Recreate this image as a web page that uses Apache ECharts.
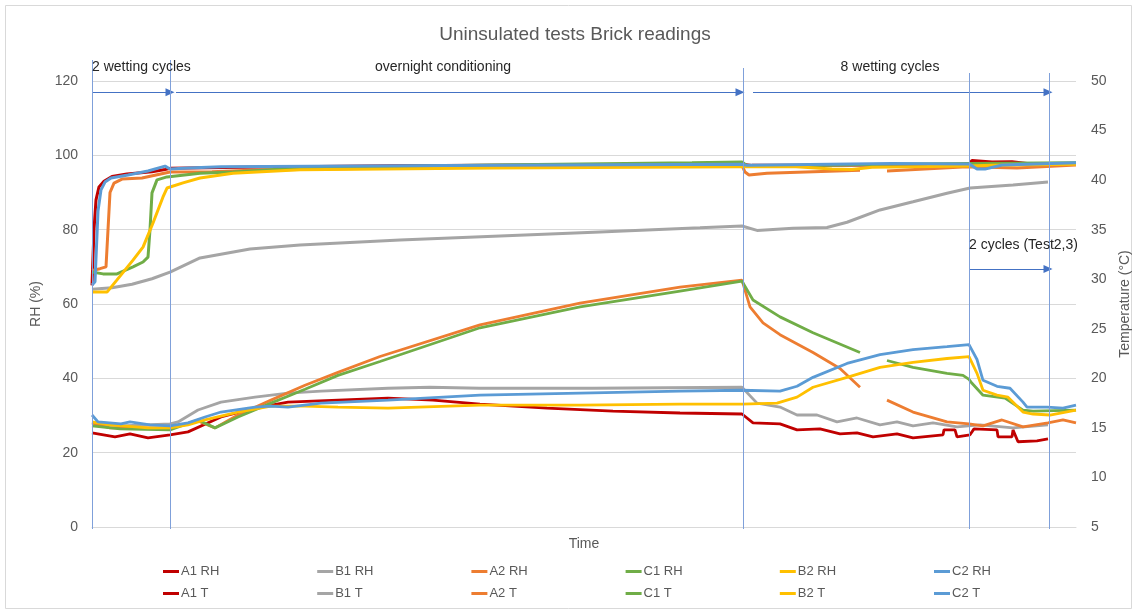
<!DOCTYPE html>
<html><head><meta charset="utf-8">
<script src="https://cdn.jsdelivr.net/npm/echarts@6/dist/echarts.min.js"></script>
<style>html,body{margin:0;padding:0;background:#fff}#c{width:1137px;height:615px}</style>
</head><body><div id="c"></div>
<script>
// ---------------- data ----------------
const TITLE = 'Uninsulated tests Brick readings';
const X_NAME = 'Time';
const RH_NAME = 'RH (%)';
const T_NAME = 'Temperature (\u00B0C)';
const TIME_MAX = 984;            // elapsed time (sample units)
const RH_MIN = 0, RH_MAX = 120, RH_STEP = 20;
const T_MIN = 5, T_MAX = 50, T_STEP = 5;

const SENSORS = ['A1', 'B1', 'A2', 'C1', 'B2', 'C2'];
const COLORS = ['#C00000', '#A5A5A5', '#ED7D31', '#70AD47', '#FFC000', '#5B9BD5'];

// phase boundaries (time)
const PHASES = [0, 78, 651, 877, 957];
const PHASE_LABELS = ['2 wetting cycles', 'overnight conditioning', '8 wetting cycles', '2 cycles (Test2,3)'];

// RH series [time, RH %]
const A1_RH = [[0,65],[2,80],[4,88],[7,91.5],[12,93],[20,94.3],[35,95],[60,95.6],[73,96.2],[78,96.5],[150,96.8],[300,97.2],[500,97.5],[650,97.6],[660,97.3],[800,97.4],[877,97.6],[880,98.6],[900,98.2],[920,98.3],[935,97.8],[984,97.8]];
const B1_RH = [[0,64],[20,64.4],[40,65.3],[60,66.8],[78,68.6],[108,72.4],[158,74.8],[208,75.9],[308,77.2],[408,78.3],[508,79.4],[608,80.5],[650,81],[665,79.8],[701,80.4],[735,80.6],[755,82],[788,85.3],[821,87.5],[855,89.8],[878,91.2],[921,92],[956,92.8]];
const A2_RH = [[0,69],[8,69.5],[14,70],[18,90],[22,92.5],[30,93.6],[50,93.9],[78,95.5],[120,95.6],[158,96],[300,96.6],[500,97],[650,97.3],[653,95.5],[657,94.7],[675,95.2],[768,96],[769,null],[795,95.8],[875,96.9],[925,96.6],[984,97.4]];
const C1_RH = [[0,68.6],[11,68.1],[25,68.1],[41,70],[51,71.3],[56,72.6],[58,80],[60,89.9],[65,93.4],[75,94.2],[108,95.2],[141,95.5],[208,96.6],[400,97.4],[600,98],[650,98.2],[655,97.2],[700,97.2],[800,97.6],[877,97.8],[984,98]];
const B2_RH = [[0,63.2],[15,63.2],[25,66.5],[41,71.8],[51,75.3],[61,81.8],[71,88.8],[75,91.2],[91,92.6],[108,93.9],[141,95.2],[208,96.1],[400,96.6],[650,96.9],[700,97],[740,96.3],[760,96.2],[780,96.8],[877,97.1],[900,97.3],[984,97.6]];
const C2_RH = [[0,65.1],[3,66],[6,85],[9,90.7],[13,92.8],[19,93.9],[36,94.7],[56,95.8],[73,97.1],[78,96.3],[96,96.6],[129,96.9],[400,97.3],[650,97.6],[655,97.3],[800,97.8],[877,97.7],[885,96.3],[893,96.3],[910,97.4],[984,98]];

// Temperature series [time, °C]
const A1_T = [[0,14.5],[23,14.1],[38,14.4],[56,14.0],[78,14.3],[96,14.6],[129,16.1],[163,17.0],[196,17.6],[296,18.0],[341,17.8],[388,17.4],[455,17.0],[521,16.7],[588,16.5],[650,16.4],[652,16.2],[661,15.5],[688,15.4],[705,14.8],[728,14.9],[748,14.4],[765,14.5],[781,14.1],[805,14.4],[821,14.0],[851,14.3],[852,14.8],[863,14.8],[865,14.1],[878,14.3],[882,14.9],[905,14.8],[906,14.1],[920,14.1],[921,14.8],[923,14.8],[926,13.6],[945,13.7],[956,13.9]];
const B1_T = [[0,15.5],[29,15.2],[78,15.4],[86,15.6],[106,16.8],[129,17.6],[163,18.1],[196,18.5],[229,18.7],[296,19.0],[338,19.1],[388,19.0],[500,19.0],[650,19.1],[665,17.5],[688,17.1],[705,16.3],[725,16.3],[745,15.6],[765,16.0],[788,15.3],[805,15.6],[821,15.2],[841,15.5],[865,15.1],[888,15.3],[921,15.0],[956,15.3]];
const A2_T = [[0,15.5],[18,15.0],[78,15.0],[106,15.7],[123,15.0],[146,16.3],[179,17.8],[213,19.3],[246,20.6],[288,22.2],[388,25.4],[488,27.6],[588,29.2],[650,29.9],[658,27.2],[671,25.6],[688,24.4],[721,22.6],[748,21.0],[768,19.1],[769,null],[795,17.8],[821,16.6],[855,15.6],[877,15.4],[891,15.2],[910,15.8],[931,15.1],[956,15.5],[971,15.8],[984,15.5]];
const C1_T = [[0,15.2],[28,14.9],[78,14.8],[106,15.8],[123,15.0],[146,16.1],[179,17.5],[213,18.9],[246,20.3],[288,21.7],[388,25.1],[488,27.2],[588,28.8],[650,29.8],[661,27.9],[688,26.2],[721,24.6],[768,22.6],[769,null],[795,21.8],[821,21.1],[855,20.5],[871,20.3],[877,19.9],[880,19.5],[891,18.3],[913,18.0],[931,16.8],[941,16.7],[984,16.8]];
const B2_T = [[0,15.6],[18,15.3],[56,15.0],[78,15.0],[96,15.3],[113,15.8],[146,16.6],[179,17.2],[213,17.2],[246,17.1],[296,17.0],[388,17.3],[488,17.3],[588,17.4],[650,17.4],[685,17.5],[705,18.1],[721,19.1],[755,20.1],[788,21.1],[821,21.6],[855,22.0],[877,22.2],[885,20.5],[891,18.8],[905,18.3],[916,18.1],[931,16.6],[941,16.4],[958,16.3],[984,16.8]];
const C2_T = [[0,16.3],[6,15.6],[29,15.4],[38,15.6],[58,15.3],[78,15.2],[96,15.5],[113,16.1],[129,16.6],[163,17.1],[179,17.2],[196,17.1],[229,17.5],[296,17.8],[388,18.3],[488,18.5],[588,18.7],[650,18.8],[688,18.7],[705,19.2],[721,20.1],[755,21.5],[788,22.4],[821,22.9],[855,23.2],[877,23.4],[885,21.9],[891,19.8],[905,19.2],[918,19.0],[931,17.6],[935,17.1],[955,17.1],[971,17.0],[984,17.3]];

const RH_DATA = [A1_RH, B1_RH, A2_RH, C1_RH, B2_RH, C2_RH];
const T_DATA = [A1_T, B1_T, A2_T, C1_T, B2_T, C2_T];

// ---------------- chart ----------------
const FONT = 'Liberation Sans';
const TXT = '#595959';
const chart = echarts.init(document.getElementById('c'), null, {renderer: 'canvas'});

const series = [];
const legends = [];
SENSORS.forEach((s, i) => {
  series.push({name: s + ' RH', type: 'line', yAxisIndex: 0, data: RH_DATA[i], showSymbol: false, symbol: 'none',
    connectNulls: false, color: COLORS[i], lineStyle: {width: 3, color: COLORS[i]}, z: 3});
});
SENSORS.forEach((s, i) => {
  series.push({name: s + ' T', type: 'line', yAxisIndex: 1, data: T_DATA[i], showSymbol: false, symbol: 'none',
    connectNulls: false, color: COLORS[i], lineStyle: {width: 2.8, color: COLORS[i]}, z: 3});
});
SENSORS.forEach((s, i) => {
  [' RH', ' T'].forEach((suf, r) => {
    legends.push({data: [s + suf], left: 163 + i * 154.2, top: 565 + r * 22, icon: 'rect', itemWidth: 16, itemHeight: 3,
      itemGap: 0, padding: 0, textStyle: {fontFamily: FONT, fontSize: 13, color: TXT, padding: [0, 0, 0, -3]}});
  });
});

// phase arrows (annotation, dummy series)
const arrowGap = 6;
const ARROWS = [
  [PHASES[0], PHASES[1], 117],
  [PHASES[1] + arrowGap, PHASES[2] - 3, 117],
  [PHASES[2] + 10, PHASES[4] - 1, 117],
  [PHASES[3], PHASES[4] - 1, 69.4]
];
series.push({
  type: 'line', name: '_ann', data: [], yAxisIndex: 0, silent: true,
  markLine: {
    silent: true, symbol: ['none', 'triangle'], symbolSize: [8, 9],
    lineStyle: {color: '#4472C4', width: 1, type: 'solid'},
    label: {show: false}, animation: false,
    data: ARROWS.map(a => [{coord: [a[0], a[2]]}, {coord: [a[1], a[2]]}])
  }
});

chart.setOption({
  animation: false,
  backgroundColor: '#fff',
  title: {text: TITLE, left: 570, top: 20, textAlign: 'center',
    textStyle: {fontFamily: FONT, fontSize: 19, fontWeight: 'normal', color: TXT}},
  legend: legends,
  grid: {left: 92, right: 61, top: 81, bottom: 88, containLabel: false, outerBoundsMode: 'none'},
  xAxis: {type: 'value', min: 0, max: TIME_MAX, name: X_NAME, nameLocation: 'middle', nameGap: 10,
    nameTextStyle: {fontFamily: FONT, fontSize: 14, color: TXT},
    axisLine: {show: true, lineStyle: {color: '#D9D9D9'}}, axisTick: {show: false}, axisLabel: {show: false}, splitLine: {show: false}},
  yAxis: [
    {type: 'value', min: RH_MIN, max: RH_MAX, interval: RH_STEP, position: 'left', name: RH_NAME, nameLocation: 'middle', nameGap: 49, nameRotate: 90,
      nameTextStyle: {fontFamily: FONT, fontSize: 14, color: TXT},
      axisLine: {show: false}, axisTick: {show: false},
      axisLabel: {margin: 14, fontFamily: FONT, fontSize: 14, color: TXT},
      splitLine: {show: true, lineStyle: {color: '#D9D9D9', width: 1}}},
    {type: 'value', min: T_MIN, max: T_MAX, interval: T_STEP, position: 'right', name: T_NAME, nameLocation: 'middle', nameGap: 42, nameRotate: 90,
      nameTextStyle: {fontFamily: FONT, fontSize: 14, color: TXT},
      axisLine: {show: false}, axisTick: {show: false},
      axisLabel: {margin: 15, fontFamily: FONT, fontSize: 14, color: TXT},
      splitLine: {show: false}}
  ],
  series: series
});

// vertical phase lines and phase labels
const px = t => chart.convertToPixel({xAxisIndex: 0}, t);
const LINE_TOPS = [60, 60, 68, 73, 73];
const graphics = [{type: 'rect', shape: {x: 5.5, y: 5.5, width: 1126, height: 603}, style: {fill: 'none', stroke: '#D9D9D9', lineWidth: 1}, z: 0, silent: true}];
PHASES.forEach((t, i) => {
  const x = Math.round(px(t)) + 0.5;
  graphics.push({type: 'line', shape: {x1: x, y1: LINE_TOPS[i], x2: x, y2: 529}, style: {stroke: '#7FA0DA', lineWidth: 1}, z: 10, silent: true});
});
const lblStyle = {fontFamily: FONT, fontSize: 14, fill: '#262626'};
graphics.push({type: 'text', x: px(PHASES[0]), y: 67, style: Object.assign({text: PHASE_LABELS[0], textAlign: 'left', textVerticalAlign: 'middle'}, lblStyle), z: 20});
graphics.push({type: 'text', x: px(351), y: 67, style: Object.assign({text: PHASE_LABELS[1], textAlign: 'center', textVerticalAlign: 'middle'}, lblStyle), z: 20});
graphics.push({type: 'text', x: px(798), y: 67, style: Object.assign({text: PHASE_LABELS[2], textAlign: 'center', textVerticalAlign: 'middle'}, lblStyle), z: 20});
graphics.push({type: 'text', x: px(PHASES[3]), y: 245, style: Object.assign({text: PHASE_LABELS[3], textAlign: 'left', textVerticalAlign: 'middle'}, lblStyle), z: 20});
chart.setOption({graphic: graphics});
</script>
</body></html>
